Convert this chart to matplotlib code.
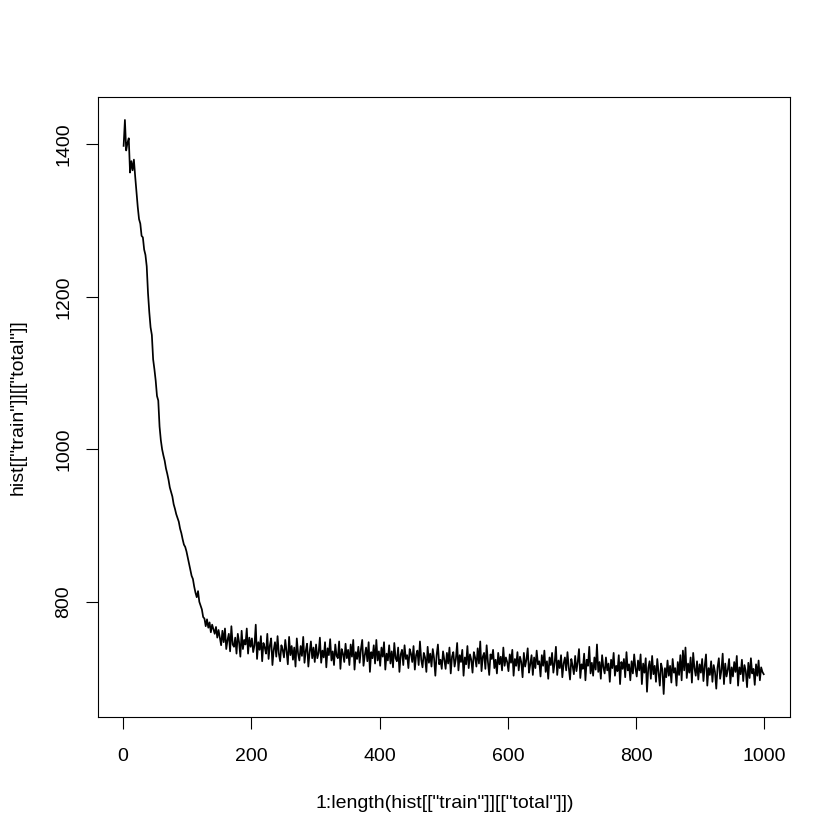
import numpy as np
import matplotlib
matplotlib.use("Agg")
import matplotlib.pyplot as plt

# training loss, one value every 2 epochs (epochs 1,3,5,...,999)
total = [
    1398, 1432, 1392, 1402, 1408, 1363, 1378, 1366, 1380, 1358, 1338, 1318, 1302, 1296, 1280, 1278, 1262, 1255, 1240, 1205, 1180, 1160, 1150, 1118, 1105,
    1090, 1070, 1064, 1030, 1012, 1000, 992, 985, 975, 968, 960, 950, 944, 938, 928, 922, 915, 910, 905, 896, 890, 882, 875, 872, 866,
    858, 850, 842, 834, 830, 820, 812, 806, 814, 800, 795, 790, 780, 778, 768, 777, 766, 773, 760, 770, 764, 758, 767, 753, 763,
    753, 743, 762, 747, 765, 738, 750, 758, 735, 768, 744, 741, 753, 732, 758, 747, 728, 762, 738, 750, 744, 765, 732, 753, 741,
    752, 734, 743, 770, 725, 747, 737, 755, 722, 746, 740, 732, 758, 725, 743, 752, 717, 737, 747, 728, 755, 732, 722, 743, 737,
    727, 750, 735, 718, 754, 730, 742, 724, 740, 715, 752, 732, 723, 742, 729, 754, 720, 736, 745, 715, 734, 748, 726, 740, 721,
    744, 726, 733, 753, 720, 736, 727, 747, 714, 739, 730, 751, 723, 735, 717, 744, 729, 726, 748, 712, 738, 732, 721, 745, 726,
    737, 717, 744, 728, 750, 711, 734, 725, 741, 720, 738, 750, 716, 730, 740, 722, 747, 708, 734, 726, 743, 719, 750, 723, 735,
    716, 740, 728, 747, 711, 732, 723, 743, 719, 735, 714, 746, 726, 722, 740, 708, 731, 737, 717, 743, 725, 730, 713, 738, 732,
    721, 742, 711, 730, 736, 717, 748, 724, 714, 733, 727, 708, 741, 720, 732, 715, 738, 726, 703, 730, 744, 718, 724, 712, 735,
    724, 712, 733, 719, 740, 706, 728, 734, 715, 725, 746, 710, 730, 721, 737, 703, 727, 718, 742, 713, 731, 724, 707, 734, 727,
    715, 739, 719, 748, 709, 728, 733, 712, 743, 721, 704, 731, 725, 737, 713, 724, 706, 733, 718, 728, 710, 740, 716, 727, 721,
    709, 731, 720, 737, 703, 725, 716, 734, 710, 728, 721, 701, 733, 715, 724, 739, 707, 718, 730, 704, 727, 713, 736, 718, 722,
    702, 730, 716, 736, 708, 722, 699, 727, 717, 733, 707, 720, 741, 704, 723, 713, 730, 701, 719, 727, 710, 734, 714, 698, 725,
    716, 705, 729, 709, 721, 738, 700, 718, 712, 732, 697, 724, 716, 741, 706, 720, 703, 727, 711, 744, 708, 721, 699, 730, 714,
    706, 727, 710, 719, 695, 724, 713, 733, 703, 716, 709, 730, 692, 721, 712, 725, 701, 734, 710, 718, 697, 722, 706, 731, 713,
    702, 723, 710, 731, 692, 719, 707, 726, 682, 713, 722, 699, 729, 705, 716, 695, 725, 708, 690, 719, 711, 679, 713, 701, 723,
    703, 716, 694, 725, 707, 713, 690, 721, 704, 730, 697, 736, 710, 740, 700, 719, 707, 727, 694, 733, 713, 703, 722, 698, 718,
    707, 725, 696, 716, 731, 690, 713, 704, 722, 695, 717, 708, 686, 714, 726, 699, 710, 732, 692, 719, 702, 711, 725, 693, 714,
    702, 721, 708, 729, 690, 714, 705, 724, 696, 717, 709, 688, 720, 700, 726, 706, 712, 691, 718, 703, 723, 697, 714, 708, 705,
]
epochs = np.arange(len(total)) * 2 + 1
x_ticks = [0, 200, 400, 600, 800, 1000]
y_ticks = [800, 1000, 1200, 1400]
x_title = '1:length(hist[["train"]][["total"]])'
y_title = 'hist[["train"]][["total"]]'

plt.rcParams['font.family'] = ['Liberation Sans', 'DejaVu Sans']

W = H = 840
fig = plt.figure(figsize=(8.4, 8.4), dpi=100)
ax = fig.add_axes([98 / W, 1 - 717 / H, 692 / W, 620 / H])

ax.plot(epochs, total, color='black', lw=1.25)

xmin, xmax = 1, 1000
ymin, ymax = min(total), max(total)
xr, yr = xmax - xmin, ymax - ymin
ax.set_xlim(xmin - 0.04 * xr, xmax + 0.04 * xr)
ax.set_ylim(ymin - 0.04 * yr, ymax + 0.04 * yr)

ax.set_xticks(x_ticks)
ax.set_yticks(y_ticks)
ax.set_xticklabels([str(v) for v in x_ticks])
ax.set_yticklabels([str(v) for v in y_ticks], rotation=90, va='center')
ax.tick_params(axis='both', direction='out', length=8.6, width=0.8, labelsize=14, color='black')
ax.tick_params(axis='x', pad=14)
ax.tick_params(axis='y', pad=10)
for s in ax.spines.values():
    s.set_linewidth(0.8)
    s.set_color('black')

fig.text(445 / W, 1 - 803 / H, x_title, ha='center', va='center', fontsize=14)
fig.text(18 / W, 1 - 407 / H, y_title, ha='center', va='center', fontsize=14, rotation=90)

fig.savefig('out.png', dpi=100, facecolor='white')
